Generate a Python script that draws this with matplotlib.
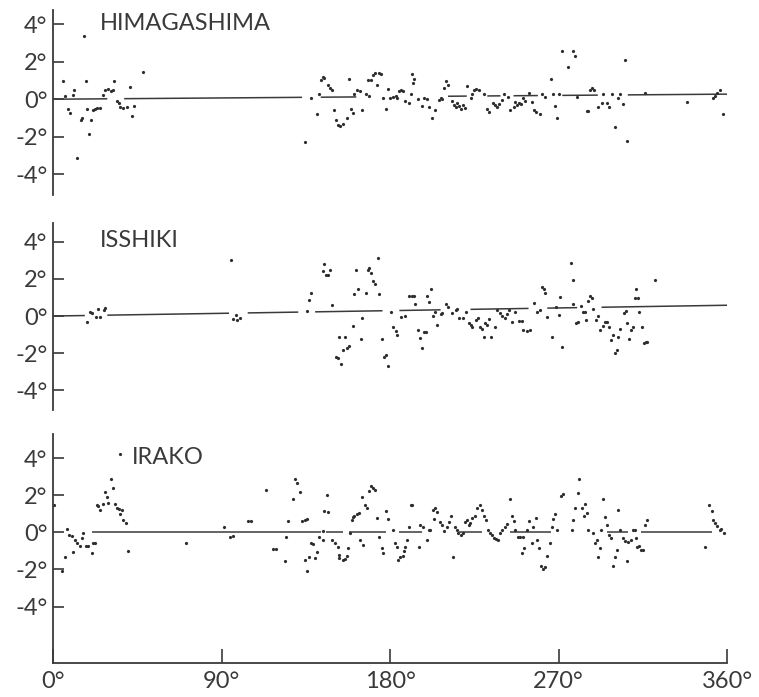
import matplotlib.pyplot as plt

plt.rcParams['font.family'] = ['Lato', 'DejaVu Sans']

# station names, top to bottom
stations = ["HIMAGASHIMA", "ISSHIKI", "IRAKO"]

# deviation (deg) against direction (deg)
hima_x = [5.5, 6.4, 8.2, 9, 10.5, 11, 13, 14.7, 15.5, 16.6, 17.6, 18.3, 19.2, 20.3, 21.4, 22.5, 23.5, 25,
          26.8, 28, 29.5, 31, 32, 32.5, 34, 35, 36, 37.5, 39.5, 41, 42.4, 43, 48,
          134.6, 138, 141, 142, 143, 144, 145, 147, 148, 149, 150, 151, 152, 153.5, 155, 157, 158, 159, 160,
          161, 162.5, 164, 165, 167, 168, 169, 170, 171, 172, 173, 174, 175, 176, 178, 179, 180, 181.5, 183,
          184, 185, 186, 187, 188, 190, 191, 192, 192.5, 193, 195, 197, 198, 200, 201, 202.5, 204, 206, 207,
          208, 209, 210, 211, 213, 214, 215, 216, 217, 218, 219, 221, 220, 223, 224, 225, 226, 227.5, 230,
          232, 233, 235, 236, 237, 238, 240, 241, 243, 244, 246, 247, 248, 249, 250, 251, 252, 254, 256, 257,
          258, 260, 261, 263, 266, 267, 268, 269, 270, 272, 275, 278, 279, 280, 285, 286, 287, 288, 289, 291,
          293, 294, 296, 297, 298.6, 300, 302, 303, 304.5, 305.6, 306.7, 316, 338.6, 352.5, 353.5, 354.5,
          356, 358]
hima_y = [0.96, 0.18, -0.5, -0.75, 0.2, 0.5, -3.15, -1.1, -1.0, 3.36, 0.96, -0.5, -1.87, -1.12, -0.6, -0.5,
          -0.45, -0.45, 0.2, 0.5, 0.55, 0.45, 0.5, 0.96, -0.1, -0.2, -0.4, -0.45, -0.4, 0.66, -0.9, -0.37, 1.46,
          -2.3, 0.05, -0.77, 0.3, 1.0, 1.2, 1.15, 0.75, 0.6, 0.5, -0.6, -1.1, -1.35, -1.45, -1.3, -1.0, 1.1,
          -0.5, -0.75, 0.3, 0.5, 0.45, -0.6, 0.3, 1.0, 0.15, 1.0, 1.3, 1.4, 0.75, 1.4, 1.35, 0.05, -0.53, 0.52,
          0.05, 0.1, 0.15, 0.05, 0.45, 0.5, 0.45, -0.1, -0.2, 0.26, 1.33, 0.85, 1.1, 0.0, -0.37, 0.05, 0.0,
          -0.43, -1.0, -0.59, -0.05, 0.05, 0.0, 0.6, 0.96, 0.75, -0.1, -0.3, -0.4, -0.2, -0.35, -0.5, -0.3,
          0.7, -0.45, 0.05, 0.3, 0.5, 0.55, 0.5, 0.3, -0.5, -0.7, -0.2, -0.3, -0.4, -0.25, -0.05, 0.26, 0.1,
          -0.55, -0.4, -0.15, -0.3, -0.2, -0.25, 0.05, -0.1, 0.33, -0.15, -0.6, -0.7, -0.8, 0.26, 0.1, 1.07,
          0.26, -0.37, -1.0, 0.26, 2.56, 1.7, 2.56, 2.3, 0.1, -0.64, -0.64, 0.5, 0.6, 0.5, -0.4, -0.2, 0.3,
          -0.2, -0.4, 0.3, -1.5, 0.05, 0.3, -0.27, 2.08, -2.25, 0.33, -0.15, 0.05, 0.15, 0.35, 0.5, -0.8]

isshiki_x = [18.3, 20, 21, 23, 24, 25, 27, 28, 95, 96, 97.5, 98.5, 100, 135.6, 137, 138, 144, 145, 146, 147,
             148, 149, 151, 152, 153, 154, 155, 156, 157, 158, 160, 161, 162, 163, 164.5, 165, 167, 168, 169,
             170, 171, 172, 173.6, 174, 175.6, 177, 178, 179, 180.5, 181.6, 183, 184, 186, 188, 190, 191.5,
             193, 193.5, 195, 196, 197, 198, 199, 200, 201, 202, 203, 204, 205, 207, 208, 210, 211, 213, 215,
             216, 217, 219, 220.6, 222, 223, 224, 226, 227, 228, 229, 230, 231, 232, 233, 234, 236, 237,
             238.5, 240, 241.5, 242.5, 243.6, 245, 247, 249, 250.5, 251, 253, 255, 257, 258.5, 260, 261, 262,
             263, 264, 266.5, 268.7, 270, 270.8, 272, 276.7, 277.8, 278, 279.5, 280.5, 282, 283, 284, 284.7,
             286, 287, 288, 288.5, 290, 291, 292, 294, 295, 296, 297, 298, 299, 300, 301, 302, 303, 305, 306,
             306.6, 307.7, 308.8, 309.8, 311, 311.5, 312.5, 313, 314.6, 315.5, 316.5, 317.5, 321.6]
isshiki_y = [-0.3, 0.2, 0.15, -0.05, 0.36, -0.05, 0.3, 0.45, 3.0, -0.15, 0.05, -0.2, -0.1, 0.27, 0.86, 1.24,
             2.4, 2.8, 2.2, 2.2, 2.5, 0.6, -2.2, -2.25, -1.1, -2.6, -1.8, -1.15, -1.7, -1.6, -0.55, 1.2, 2.5,
             1.45, -1.25, -0.1, 1.25, 2.5, 2.6, 2.3, 1.9, 1.7, 3.1, 1.2, -1.25, -2.2, -2.1, -2.7, 0.2, -0.6,
             -0.8, -1.0, -0.05, 0.0, 1.07, 1.07, 1.07, 0.64, -0.75, -1.2, -1.7, -0.85, -0.85, 1.05, 0.75, 1.45,
             0.0, 0.2, -0.5, 0.1, 0.15, 0.64, 0.5, 0.15, 0.3, 0.4, -0.1, -0.1, 0.2, -0.4, -0.5, -0.6, -0.2,
             -0.1, -0.6, -0.7, -1.1, -0.4, -0.5, -0.15, -1.1, -0.6, 0.3, 0.15, 0.0, -0.1, 0.1, 0.3, -0.3, 0.2,
             -0.25, -0.25, -0.75, -0.8, -0.75, 0.7, 0.2, 0.3, 1.56, 1.45, 1.24, -0.05, -1.1, 0.5, 0.05, 1.0,
             -1.67, 2.85, 1.94, 0.64, -0.35, -0.3, 0.54, 0.2, 0.2, -0.2, 0.8, 1.1, 0.95, 0.4, -0.2, 0.0, -0.75,
             -0.55, -0.3, -0.3, -0.6, -1.3, -1.0, -2.0, -1.85, -1.1, -0.7, 0.15, 0.25, -0.35, -1.25, -0.75,
             -0.6, 0.97, 1.45, 0.97, 0.2, -0.6, -1.45, -1.4, -1.4, 1.94]

irako_x = [0.5, 5, 6.4, 7.3, 8.7, 10, 10.5, 11.7, 13, 14.4, 15.5, 16, 17.6, 18.7, 20.8, 21.4, 22.4, 23.4, 24,
           25, 26.7, 27.8, 28.8, 29.4, 31, 32, 33, 34, 35.5, 36, 37, 37.5, 39, 40, 36, 71, 91.3, 94.5, 96,
           104, 106, 113.6, 117.7, 119, 124, 124.5, 125.7, 128, 129, 130.5, 132, 133, 134.5, 135.6, 134.6,
           136.8, 135.7, 138, 139, 140, 141, 142, 144, 144.4, 145, 147, 146.5, 149, 150.5, 152, 152.5, 153,
           155, 156, 157, 157.6, 158.7, 159.7, 160.3, 161, 162.5, 163.5, 164, 165.6, 165, 166.7, 167.7, 169,
           170, 171, 172, 173, 174, 175.7, 176.3, 178, 179, 181.6, 182.7, 183.8, 184.3, 185.4, 187, 187.5,
           188, 189, 190, 191, 192, 195.5, 196, 197.6, 199.8, 200.6, 201.4, 203, 203.5, 204, 205, 206.7, 208,
           209, 210.5, 211.5, 212.6, 213.7, 214.7, 215.8, 216.5, 218, 219, 220, 221, 222, 222.7, 223.8,
           225.4, 226.5, 228, 229, 230, 231.3, 232.4, 233.4, 234.5, 235.5, 236.5, 237.7, 238.8, 240, 241.4,
           242.5, 244, 245, 246, 247, 248.4, 249.5, 251, 250.5, 251.6, 253, 254, 256, 256.4, 258, 258.5,
           259.6, 260.7, 261.7, 262.8, 263.9, 265.5, 266.5, 267, 268, 269, 271.4, 272.4, 277, 277.8, 279,
           280.4, 281, 282.6, 283.6, 284.3, 285, 286, 288.5, 289.5, 290.6, 291, 292, 292.5, 294, 294.9, 296,
           297, 298, 299, 300, 301, 301.8, 303, 304.5, 305.7, 307, 306.7, 308.8, 309.8, 311, 311.4, 312, 313,
           314, 315, 316, 317.3, 348, 350.4, 352, 352.5, 353.6, 354.7, 356, 357, 358.4]
irako_y = [1.45, -2.1, -1.33, 0.2, -0.15, -0.2, -1.05, -0.4, -0.6, -0.75, -0.3, -0.05, -0.75, -0.75, -1.1,
           -0.6, -0.55, 1.5, 1.4, 1.2, 1.55, 2.15, 1.9, 1.6, 2.85, 2.4, 1.55, 1.3, 1.25, 1.0, 1.2, 0.65, 0.5,
           -1.0, 4.2, -0.6, 0.27, -0.25, -0.2, 0.6, 0.6, 2.3, -0.9, -0.9, -1.55, -0.25, 0.6, 1.8, 2.85, 2.65,
           2.15, 0.6, 0.65, 0.7, -1.5, -1.35, -2.1, -0.6, -0.65, -1.4, -1.05, -0.25, -0.4, 0.05, 1.15, 1.1,
           2.0, -0.4, -0.6, -0.8, -1.2, -1.4, -1.5, -1.45, -1.3, -0.85, -0.05, 0.65, 0.85, 0.9, 1.0, 1.05,
           -0.4, -0.7, 1.9, 1.45, 1.3, 2.25, 2.5, 2.4, 2.3, 0.8, -0.25, -0.85, -1.1, 1.13, 0.7, 0.1, -0.6,
           -0.8, -1.5, -1.35, -1.25, -1.0, -0.8, -0.43, 0.27, 1.5, 1.45, -0.8, 0.38, 0.27, -0.43, 0.1, 0.1,
           1.2, 0.7, 1.3, 1.1, 0.55, 0.38, 0.05, 0.27, 0.55, 0.9, -1.35, 0.27, 0.1, -0.05, -0.15, -0.05, 0.55,
           0.65, 0.38, 0.5, 0.8, 0.9, 1.3, 1.5, 1.2, 0.9, 0.65, 0.15, -0.05, -0.15, -0.3, -0.35, -0.4, -0.05,
           0.1, 0.27, 0.43, 1.8, 0.9, 0.6, 0.15, -0.27, -0.27, -0.25, -1.1, -0.85, 0.15, 0.6, -0.6, 0.27, 0.8,
           -0.4, -0.85, -1.8, -1.95, -1.85, -1.3, -0.6, 0.27, 0.7, 1.0, 0.15, 1.95, 2.05, 0.15, 0.65, 1.3,
           2.1, 2.85, 1.3, 0.9, 1.55, 1.05, 0.1, -0.05, -0.6, -0.4, -1.35, -0.85, 0.1, 1.8, 0.85, 0.38, -0.15,
           -0.3, -1.8, -1.35, -0.95, 1.2, 0.15, -0.3, -0.45, -0.5, -1.55, -0.43, 0.15, 0.15, -0.3, -0.8,
           -0.75, -0.95, -0.95, 0.4, 0.65, -0.8, 1.45, 1.15, 0.65, 0.5, 0.33, 0.15, 0.2, -0.05]

# trend line: value at 0 deg and at 360 deg
hima_trend = [0.0, 0.27]
isshiki_trend = [0.0, 0.58]
irako_trend = [0.0, 0.0]

# stretches (deg) where the trend line is drawn, it is broken around the dots
hima_segments = [(0, 29), (38, 133), (143, 162), (211, 221), (232, 239), (246, 259), (272, 291), (307, 360)]
isshiki_segments = [(0, 17), (29, 94), (104, 131), (140, 176), (185, 207), (223, 254), (264, 280), (293, 360)]
irako_segments = [(21, 143), (146, 155), (158, 178), (185, 197), (217, 229), (244, 266), (296, 307), (314, 352)]

yticks = [4, 2, 0, -2, -4]
ytick_labels = ["4°", "2°", "0°", "-2°", "-4°"]
xticks = [0, 90, 180, 270, 360]
xtick_labels = ["0°", "90°", "180°", "270°", "360°"]

ink = '#3a3a3a'
W, H = 759, 697
fig = plt.figure(figsize=(W / 100, H / 100), dpi=100)

# pixel layout of each panel: top, bottom, ymax, ymin
panels = [
    (stations[0], hima_x, hima_y, hima_trend, hima_segments, (10, 195, 4.75, -5.1)),
    (stations[1], isshiki_x, isshiki_y, isshiki_trend, isshiki_segments, (223, 410, 5.0, -5.05)),
    (stations[2], irako_x, irako_y, irako_trend, irako_segments, (434, 663, 5.3, -7.04)),
]

for i, (name, xs, ys, trend, segs, (top, bot, ymax, ymin)) in enumerate(panels):
    ax = fig.add_axes([53 / W, 1 - bot / H, 674 / W, (bot - top) / H])
    ax.set_xlim(0, 360)
    ax.set_ylim(ymin, ymax)
    ax.patch.set_alpha(0)

    slope = (trend[1] - trend[0]) / 360.0
    for a, b in segs:
        ax.plot([a, b], [trend[0] + slope * a, trend[0] + slope * b], color=ink, lw=1.1,
                solid_capstyle='butt')
    ax.plot(xs, ys, 'o', color='#2e2e2e', ms=2.3, mew=0, clip_on=False)

    ax.text(25 if i < 2 else 42, 4.05, name, fontsize=17, color=ink, va='center', ha='left')

    for side in ['top', 'right']:
        ax.spines[side].set_visible(False)
    ax.spines['left'].set_color(ink)
    ax.spines['left'].set_linewidth(1.3)
    ax.set_yticks(yticks)
    ax.set_yticklabels(ytick_labels, fontsize=17, color=ink)
    ax.tick_params(axis='y', direction='in', length=8, width=1.2, color=ink, pad=4)

    if i < 2:
        ax.spines['bottom'].set_visible(False)
        ax.set_xticks([])
    else:
        ax.spines['bottom'].set_color(ink)
        ax.spines['bottom'].set_linewidth(1.3)
        ax.set_xticks(xticks)
        ax.set_xticklabels(xtick_labels, fontsize=17, color=ink)
        ax.tick_params(axis='x', direction='in', length=10, width=1.2, color=ink, pad=6)

fig.savefig('out.png', dpi=100)
